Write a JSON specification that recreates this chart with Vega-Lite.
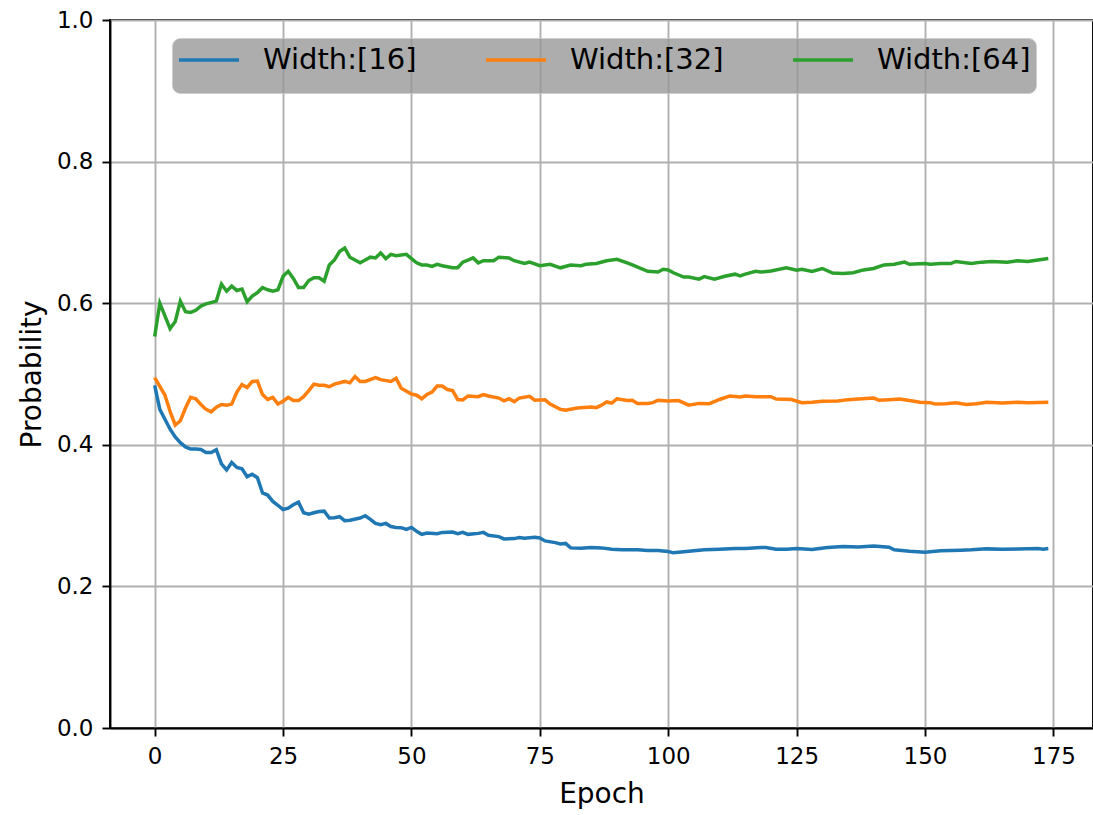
{
  "$schema": "https://vega.github.io/schema/vega-lite/v6.json",
  "autosize": "none",
  "width": 983,
  "height": 708,
  "padding": {"left": 110, "top": 20, "right": 0, "bottom": 87},
  "background": "white",
  "config": {
    "font": "DejaVu Sans",
    "view": {"stroke": "black", "strokeWidth": 1.9},
    "axis": {
      "labelFont": "DejaVu Sans",
      "titleFont": "DejaVu Sans",
      "labelFontSize": 23,
      "titleFontSize": 28,
      "titleFontWeight": "normal",
      "labelColor": "black",
      "titleColor": "black",
      "domainColor": "black",
      "domainWidth": 1.9,
      "tickColor": "black",
      "tickWidth": 1.9,
      "tickSize": 8,
      "labelPadding": 9,
      "grid": true,
      "gridColor": "#b0b0b0",
      "gridWidth": 1.9
    }
  },
  "datasets": {
    "rows": [
      {"epoch": 0, "series": "Width:[16]", "p": 0.484},
      {"epoch": 1, "series": "Width:[16]", "p": 0.450},
      {"epoch": 2, "series": "Width:[16]", "p": 0.436},
      {"epoch": 3, "series": "Width:[16]", "p": 0.422},
      {"epoch": 4, "series": "Width:[16]", "p": 0.411},
      {"epoch": 5, "series": "Width:[16]", "p": 0.403},
      {"epoch": 6, "series": "Width:[16]", "p": 0.397},
      {"epoch": 7, "series": "Width:[16]", "p": 0.394},
      {"epoch": 8, "series": "Width:[16]", "p": 0.394},
      {"epoch": 9, "series": "Width:[16]", "p": 0.3935},
      {"epoch": 10, "series": "Width:[16]", "p": 0.389},
      {"epoch": 11, "series": "Width:[16]", "p": 0.389},
      {"epoch": 12, "series": "Width:[16]", "p": 0.393},
      {"epoch": 13, "series": "Width:[16]", "p": 0.373},
      {"epoch": 14, "series": "Width:[16]", "p": 0.3645},
      {"epoch": 15, "series": "Width:[16]", "p": 0.375},
      {"epoch": 16, "series": "Width:[16]", "p": 0.368},
      {"epoch": 17, "series": "Width:[16]", "p": 0.366},
      {"epoch": 18, "series": "Width:[16]", "p": 0.355},
      {"epoch": 19, "series": "Width:[16]", "p": 0.3584},
      {"epoch": 20, "series": "Width:[16]", "p": 0.3535},
      {"epoch": 21, "series": "Width:[16]", "p": 0.332},
      {"epoch": 22, "series": "Width:[16]", "p": 0.329},
      {"epoch": 23, "series": "Width:[16]", "p": 0.320},
      {"epoch": 24, "series": "Width:[16]", "p": 0.3143},
      {"epoch": 25, "series": "Width:[16]", "p": 0.3086},
      {"epoch": 26, "series": "Width:[16]", "p": 0.3106},
      {"epoch": 27, "series": "Width:[16]", "p": 0.3153},
      {"epoch": 28, "series": "Width:[16]", "p": 0.319},
      {"epoch": 29, "series": "Width:[16]", "p": 0.304},
      {"epoch": 30, "series": "Width:[16]", "p": 0.302},
      {"epoch": 31, "series": "Width:[16]", "p": 0.304},
      {"epoch": 32, "series": "Width:[16]", "p": 0.3058},
      {"epoch": 33, "series": "Width:[16]", "p": 0.3063},
      {"epoch": 34, "series": "Width:[16]", "p": 0.2966},
      {"epoch": 35, "series": "Width:[16]", "p": 0.297},
      {"epoch": 36, "series": "Width:[16]", "p": 0.2984},
      {"epoch": 37, "series": "Width:[16]", "p": 0.2928},
      {"epoch": 38, "series": "Width:[16]", "p": 0.2935},
      {"epoch": 40, "series": "Width:[16]", "p": 0.2966},
      {"epoch": 41, "series": "Width:[16]", "p": 0.2998},
      {"epoch": 42, "series": "Width:[16]", "p": 0.2946},
      {"epoch": 43, "series": "Width:[16]", "p": 0.289},
      {"epoch": 44, "series": "Width:[16]", "p": 0.2871},
      {"epoch": 45, "series": "Width:[16]", "p": 0.289},
      {"epoch": 46, "series": "Width:[16]", "p": 0.2845},
      {"epoch": 47, "series": "Width:[16]", "p": 0.2833},
      {"epoch": 48, "series": "Width:[16]", "p": 0.283},
      {"epoch": 49, "series": "Width:[16]", "p": 0.2806},
      {"epoch": 50, "series": "Width:[16]", "p": 0.2833},
      {"epoch": 51, "series": "Width:[16]", "p": 0.2777},
      {"epoch": 52, "series": "Width:[16]", "p": 0.2735},
      {"epoch": 53, "series": "Width:[16]", "p": 0.2755},
      {"epoch": 55, "series": "Width:[16]", "p": 0.2745},
      {"epoch": 56, "series": "Width:[16]", "p": 0.2763},
      {"epoch": 58, "series": "Width:[16]", "p": 0.2767},
      {"epoch": 59, "series": "Width:[16]", "p": 0.2745},
      {"epoch": 60, "series": "Width:[16]", "p": 0.2763},
      {"epoch": 61, "series": "Width:[16]", "p": 0.2735},
      {"epoch": 63, "series": "Width:[16]", "p": 0.2749},
      {"epoch": 64, "series": "Width:[16]", "p": 0.2763},
      {"epoch": 65, "series": "Width:[16]", "p": 0.2721},
      {"epoch": 67, "series": "Width:[16]", "p": 0.2703},
      {"epoch": 68, "series": "Width:[16]", "p": 0.267},
      {"epoch": 70, "series": "Width:[16]", "p": 0.2675},
      {"epoch": 71, "series": "Width:[16]", "p": 0.2689},
      {"epoch": 72, "series": "Width:[16]", "p": 0.268},
      {"epoch": 74, "series": "Width:[16]", "p": 0.2693},
      {"epoch": 75, "series": "Width:[16]", "p": 0.2684},
      {"epoch": 76, "series": "Width:[16]", "p": 0.2642},
      {"epoch": 78, "series": "Width:[16]", "p": 0.2618},
      {"epoch": 79, "series": "Width:[16]", "p": 0.260},
      {"epoch": 80, "series": "Width:[16]", "p": 0.2607},
      {"epoch": 81, "series": "Width:[16]", "p": 0.2544},
      {"epoch": 83, "series": "Width:[16]", "p": 0.254},
      {"epoch": 85, "series": "Width:[16]", "p": 0.2548},
      {"epoch": 87, "series": "Width:[16]", "p": 0.2544},
      {"epoch": 89, "series": "Width:[16]", "p": 0.2525},
      {"epoch": 91, "series": "Width:[16]", "p": 0.2516},
      {"epoch": 94, "series": "Width:[16]", "p": 0.2516},
      {"epoch": 96, "series": "Width:[16]", "p": 0.2506},
      {"epoch": 98, "series": "Width:[16]", "p": 0.2506},
      {"epoch": 100, "series": "Width:[16]", "p": 0.2492},
      {"epoch": 101, "series": "Width:[16]", "p": 0.2474},
      {"epoch": 104, "series": "Width:[16]", "p": 0.2496},
      {"epoch": 107, "series": "Width:[16]", "p": 0.2516},
      {"epoch": 110, "series": "Width:[16]", "p": 0.2525},
      {"epoch": 113, "series": "Width:[16]", "p": 0.2534},
      {"epoch": 115, "series": "Width:[16]", "p": 0.2534},
      {"epoch": 118, "series": "Width:[16]", "p": 0.2548},
      {"epoch": 119, "series": "Width:[16]", "p": 0.2548},
      {"epoch": 121, "series": "Width:[16]", "p": 0.2525},
      {"epoch": 123, "series": "Width:[16]", "p": 0.2525},
      {"epoch": 125, "series": "Width:[16]", "p": 0.2534},
      {"epoch": 128, "series": "Width:[16]", "p": 0.252},
      {"epoch": 131, "series": "Width:[16]", "p": 0.2548},
      {"epoch": 134, "series": "Width:[16]", "p": 0.2562},
      {"epoch": 137, "series": "Width:[16]", "p": 0.2557},
      {"epoch": 140, "series": "Width:[16]", "p": 0.2572},
      {"epoch": 143, "series": "Width:[16]", "p": 0.2553},
      {"epoch": 144, "series": "Width:[16]", "p": 0.2516},
      {"epoch": 147, "series": "Width:[16]", "p": 0.2496},
      {"epoch": 150, "series": "Width:[16]", "p": 0.2482},
      {"epoch": 153, "series": "Width:[16]", "p": 0.2502},
      {"epoch": 157, "series": "Width:[16]", "p": 0.2511},
      {"epoch": 159, "series": "Width:[16]", "p": 0.2516},
      {"epoch": 162, "series": "Width:[16]", "p": 0.253},
      {"epoch": 165, "series": "Width:[16]", "p": 0.2525},
      {"epoch": 168, "series": "Width:[16]", "p": 0.253},
      {"epoch": 172, "series": "Width:[16]", "p": 0.2534},
      {"epoch": 173, "series": "Width:[16]", "p": 0.2525},
      {"epoch": 174, "series": "Width:[16]", "p": 0.2534},

      {"epoch": 0, "series": "Width:[32]", "p": 0.495},
      {"epoch": 1, "series": "Width:[32]", "p": 0.4825},
      {"epoch": 2, "series": "Width:[32]", "p": 0.470},
      {"epoch": 3, "series": "Width:[32]", "p": 0.447},
      {"epoch": 4, "series": "Width:[32]", "p": 0.428},
      {"epoch": 5, "series": "Width:[32]", "p": 0.434},
      {"epoch": 6, "series": "Width:[32]", "p": 0.452},
      {"epoch": 7, "series": "Width:[32]", "p": 0.467},
      {"epoch": 8, "series": "Width:[32]", "p": 0.465},
      {"epoch": 9, "series": "Width:[32]", "p": 0.457},
      {"epoch": 10, "series": "Width:[32]", "p": 0.450},
      {"epoch": 11, "series": "Width:[32]", "p": 0.4465},
      {"epoch": 12, "series": "Width:[32]", "p": 0.453},
      {"epoch": 13, "series": "Width:[32]", "p": 0.457},
      {"epoch": 14, "series": "Width:[32]", "p": 0.456},
      {"epoch": 15, "series": "Width:[32]", "p": 0.4575},
      {"epoch": 16, "series": "Width:[32]", "p": 0.4745},
      {"epoch": 17, "series": "Width:[32]", "p": 0.485},
      {"epoch": 18, "series": "Width:[32]", "p": 0.481},
      {"epoch": 19, "series": "Width:[32]", "p": 0.4895},
      {"epoch": 20, "series": "Width:[32]", "p": 0.490},
      {"epoch": 21, "series": "Width:[32]", "p": 0.471},
      {"epoch": 22, "series": "Width:[32]", "p": 0.464},
      {"epoch": 23, "series": "Width:[32]", "p": 0.467},
      {"epoch": 24, "series": "Width:[32]", "p": 0.4575},
      {"epoch": 25, "series": "Width:[32]", "p": 0.4615},
      {"epoch": 26, "series": "Width:[32]", "p": 0.467},
      {"epoch": 27, "series": "Width:[32]", "p": 0.4625},
      {"epoch": 28, "series": "Width:[32]", "p": 0.4625},
      {"epoch": 29, "series": "Width:[32]", "p": 0.468},
      {"epoch": 30, "series": "Width:[32]", "p": 0.4765},
      {"epoch": 31, "series": "Width:[32]", "p": 0.4857},
      {"epoch": 32, "series": "Width:[32]", "p": 0.484},
      {"epoch": 33, "series": "Width:[32]", "p": 0.484},
      {"epoch": 34, "series": "Width:[32]", "p": 0.482},
      {"epoch": 35, "series": "Width:[32]", "p": 0.4857},
      {"epoch": 37, "series": "Width:[32]", "p": 0.4895},
      {"epoch": 38, "series": "Width:[32]", "p": 0.4875},
      {"epoch": 39, "series": "Width:[32]", "p": 0.4965},
      {"epoch": 40, "series": "Width:[32]", "p": 0.4895},
      {"epoch": 41, "series": "Width:[32]", "p": 0.4895},
      {"epoch": 43, "series": "Width:[32]", "p": 0.495},
      {"epoch": 44, "series": "Width:[32]", "p": 0.492},
      {"epoch": 46, "series": "Width:[32]", "p": 0.4895},
      {"epoch": 47, "series": "Width:[32]", "p": 0.494},
      {"epoch": 48, "series": "Width:[32]", "p": 0.480},
      {"epoch": 50, "series": "Width:[32]", "p": 0.4717},
      {"epoch": 51, "series": "Width:[32]", "p": 0.470},
      {"epoch": 52, "series": "Width:[32]", "p": 0.465},
      {"epoch": 53, "series": "Width:[32]", "p": 0.471},
      {"epoch": 54, "series": "Width:[32]", "p": 0.4745},
      {"epoch": 55, "series": "Width:[32]", "p": 0.483},
      {"epoch": 56, "series": "Width:[32]", "p": 0.483},
      {"epoch": 57, "series": "Width:[32]", "p": 0.478},
      {"epoch": 58, "series": "Width:[32]", "p": 0.4765},
      {"epoch": 59, "series": "Width:[32]", "p": 0.464},
      {"epoch": 60, "series": "Width:[32]", "p": 0.4635},
      {"epoch": 61, "series": "Width:[32]", "p": 0.469},
      {"epoch": 63, "series": "Width:[32]", "p": 0.468},
      {"epoch": 64, "series": "Width:[32]", "p": 0.471},
      {"epoch": 65, "series": "Width:[32]", "p": 0.469},
      {"epoch": 67, "series": "Width:[32]", "p": 0.466},
      {"epoch": 68, "series": "Width:[32]", "p": 0.462},
      {"epoch": 69, "series": "Width:[32]", "p": 0.465},
      {"epoch": 70, "series": "Width:[32]", "p": 0.461},
      {"epoch": 71, "series": "Width:[32]", "p": 0.466},
      {"epoch": 73, "series": "Width:[32]", "p": 0.4685},
      {"epoch": 74, "series": "Width:[32]", "p": 0.463},
      {"epoch": 76, "series": "Width:[32]", "p": 0.4635},
      {"epoch": 77, "series": "Width:[32]", "p": 0.4575},
      {"epoch": 79, "series": "Width:[32]", "p": 0.450},
      {"epoch": 80, "series": "Width:[32]", "p": 0.449},
      {"epoch": 82, "series": "Width:[32]", "p": 0.4515},
      {"epoch": 83, "series": "Width:[32]", "p": 0.4525},
      {"epoch": 85, "series": "Width:[32]", "p": 0.4535},
      {"epoch": 86, "series": "Width:[32]", "p": 0.4525},
      {"epoch": 87, "series": "Width:[32]", "p": 0.456},
      {"epoch": 88, "series": "Width:[32]", "p": 0.4605},
      {"epoch": 89, "series": "Width:[32]", "p": 0.459},
      {"epoch": 90, "series": "Width:[32]", "p": 0.465},
      {"epoch": 92, "series": "Width:[32]", "p": 0.4625},
      {"epoch": 93, "series": "Width:[32]", "p": 0.463},
      {"epoch": 94, "series": "Width:[32]", "p": 0.4585},
      {"epoch": 96, "series": "Width:[32]", "p": 0.4585},
      {"epoch": 97, "series": "Width:[32]", "p": 0.4595},
      {"epoch": 98, "series": "Width:[32]", "p": 0.463},
      {"epoch": 100, "series": "Width:[32]", "p": 0.462},
      {"epoch": 102, "series": "Width:[32]", "p": 0.4625},
      {"epoch": 104, "series": "Width:[32]", "p": 0.456},
      {"epoch": 106, "series": "Width:[32]", "p": 0.4585},
      {"epoch": 108, "series": "Width:[32]", "p": 0.458},
      {"epoch": 110, "series": "Width:[32]", "p": 0.464},
      {"epoch": 112, "series": "Width:[32]", "p": 0.469},
      {"epoch": 114, "series": "Width:[32]", "p": 0.4675},
      {"epoch": 115, "series": "Width:[32]", "p": 0.469},
      {"epoch": 117, "series": "Width:[32]", "p": 0.468},
      {"epoch": 120, "series": "Width:[32]", "p": 0.468},
      {"epoch": 121, "series": "Width:[32]", "p": 0.4647},
      {"epoch": 124, "series": "Width:[32]", "p": 0.464},
      {"epoch": 126, "series": "Width:[32]", "p": 0.4595},
      {"epoch": 128, "series": "Width:[32]", "p": 0.460},
      {"epoch": 130, "series": "Width:[32]", "p": 0.4615},
      {"epoch": 133, "series": "Width:[32]", "p": 0.462},
      {"epoch": 135, "series": "Width:[32]", "p": 0.4638},
      {"epoch": 137, "series": "Width:[32]", "p": 0.4647},
      {"epoch": 140, "series": "Width:[32]", "p": 0.466},
      {"epoch": 141, "series": "Width:[32]", "p": 0.463},
      {"epoch": 143, "series": "Width:[32]", "p": 0.4638},
      {"epoch": 145, "series": "Width:[32]", "p": 0.4647},
      {"epoch": 147, "series": "Width:[32]", "p": 0.4625},
      {"epoch": 149, "series": "Width:[32]", "p": 0.460},
      {"epoch": 151, "series": "Width:[32]", "p": 0.4595},
      {"epoch": 152, "series": "Width:[32]", "p": 0.4575},
      {"epoch": 154, "series": "Width:[32]", "p": 0.458},
      {"epoch": 156, "series": "Width:[32]", "p": 0.4595},
      {"epoch": 158, "series": "Width:[32]", "p": 0.457},
      {"epoch": 160, "series": "Width:[32]", "p": 0.458},
      {"epoch": 162, "series": "Width:[32]", "p": 0.460},
      {"epoch": 165, "series": "Width:[32]", "p": 0.459},
      {"epoch": 168, "series": "Width:[32]", "p": 0.460},
      {"epoch": 170, "series": "Width:[32]", "p": 0.4595},
      {"epoch": 172, "series": "Width:[32]", "p": 0.4598},
      {"epoch": 174, "series": "Width:[32]", "p": 0.460},

      {"epoch": 0, "series": "Width:[64]", "p": 0.553},
      {"epoch": 1, "series": "Width:[64]", "p": 0.600},
      {"epoch": 3, "series": "Width:[64]", "p": 0.564},
      {"epoch": 4, "series": "Width:[64]", "p": 0.574},
      {"epoch": 5, "series": "Width:[64]", "p": 0.603},
      {"epoch": 6, "series": "Width:[64]", "p": 0.588},
      {"epoch": 7, "series": "Width:[64]", "p": 0.587},
      {"epoch": 8, "series": "Width:[64]", "p": 0.590},
      {"epoch": 9, "series": "Width:[64]", "p": 0.596},
      {"epoch": 10, "series": "Width:[64]", "p": 0.599},
      {"epoch": 12, "series": "Width:[64]", "p": 0.603},
      {"epoch": 13, "series": "Width:[64]", "p": 0.627},
      {"epoch": 14, "series": "Width:[64]", "p": 0.617},
      {"epoch": 15, "series": "Width:[64]", "p": 0.624},
      {"epoch": 16, "series": "Width:[64]", "p": 0.618},
      {"epoch": 17, "series": "Width:[64]", "p": 0.620},
      {"epoch": 18, "series": "Width:[64]", "p": 0.602},
      {"epoch": 19, "series": "Width:[64]", "p": 0.610},
      {"epoch": 20, "series": "Width:[64]", "p": 0.615},
      {"epoch": 21, "series": "Width:[64]", "p": 0.622},
      {"epoch": 22, "series": "Width:[64]", "p": 0.619},
      {"epoch": 23, "series": "Width:[64]", "p": 0.617},
      {"epoch": 24, "series": "Width:[64]", "p": 0.619},
      {"epoch": 25, "series": "Width:[64]", "p": 0.638},
      {"epoch": 26, "series": "Width:[64]", "p": 0.645},
      {"epoch": 27, "series": "Width:[64]", "p": 0.635},
      {"epoch": 28, "series": "Width:[64]", "p": 0.622},
      {"epoch": 29, "series": "Width:[64]", "p": 0.622},
      {"epoch": 30, "series": "Width:[64]", "p": 0.632},
      {"epoch": 31, "series": "Width:[64]", "p": 0.636},
      {"epoch": 32, "series": "Width:[64]", "p": 0.636},
      {"epoch": 33, "series": "Width:[64]", "p": 0.631},
      {"epoch": 34, "series": "Width:[64]", "p": 0.654},
      {"epoch": 35, "series": "Width:[64]", "p": 0.661},
      {"epoch": 36, "series": "Width:[64]", "p": 0.673},
      {"epoch": 37, "series": "Width:[64]", "p": 0.678},
      {"epoch": 38, "series": "Width:[64]", "p": 0.665},
      {"epoch": 39, "series": "Width:[64]", "p": 0.661},
      {"epoch": 40, "series": "Width:[64]", "p": 0.657},
      {"epoch": 41, "series": "Width:[64]", "p": 0.661},
      {"epoch": 42, "series": "Width:[64]", "p": 0.665},
      {"epoch": 43, "series": "Width:[64]", "p": 0.664},
      {"epoch": 44, "series": "Width:[64]", "p": 0.671},
      {"epoch": 45, "series": "Width:[64]", "p": 0.663},
      {"epoch": 46, "series": "Width:[64]", "p": 0.669},
      {"epoch": 47, "series": "Width:[64]", "p": 0.667},
      {"epoch": 49, "series": "Width:[64]", "p": 0.669},
      {"epoch": 50, "series": "Width:[64]", "p": 0.663},
      {"epoch": 51, "series": "Width:[64]", "p": 0.657},
      {"epoch": 52, "series": "Width:[64]", "p": 0.654},
      {"epoch": 53, "series": "Width:[64]", "p": 0.654},
      {"epoch": 54, "series": "Width:[64]", "p": 0.652},
      {"epoch": 55, "series": "Width:[64]", "p": 0.655},
      {"epoch": 56, "series": "Width:[64]", "p": 0.653},
      {"epoch": 58, "series": "Width:[64]", "p": 0.650},
      {"epoch": 59, "series": "Width:[64]", "p": 0.650},
      {"epoch": 60, "series": "Width:[64]", "p": 0.658},
      {"epoch": 61, "series": "Width:[64]", "p": 0.661},
      {"epoch": 62, "series": "Width:[64]", "p": 0.664},
      {"epoch": 63, "series": "Width:[64]", "p": 0.657},
      {"epoch": 64, "series": "Width:[64]", "p": 0.660},
      {"epoch": 66, "series": "Width:[64]", "p": 0.660},
      {"epoch": 67, "series": "Width:[64]", "p": 0.665},
      {"epoch": 69, "series": "Width:[64]", "p": 0.664},
      {"epoch": 70, "series": "Width:[64]", "p": 0.660},
      {"epoch": 72, "series": "Width:[64]", "p": 0.656},
      {"epoch": 73, "series": "Width:[64]", "p": 0.658},
      {"epoch": 75, "series": "Width:[64]", "p": 0.653},
      {"epoch": 77, "series": "Width:[64]", "p": 0.655},
      {"epoch": 79, "series": "Width:[64]", "p": 0.650},
      {"epoch": 81, "series": "Width:[64]", "p": 0.654},
      {"epoch": 83, "series": "Width:[64]", "p": 0.653},
      {"epoch": 84, "series": "Width:[64]", "p": 0.655},
      {"epoch": 86, "series": "Width:[64]", "p": 0.656},
      {"epoch": 88, "series": "Width:[64]", "p": 0.660},
      {"epoch": 90, "series": "Width:[64]", "p": 0.662},
      {"epoch": 92, "series": "Width:[64]", "p": 0.657},
      {"epoch": 93, "series": "Width:[64]", "p": 0.654},
      {"epoch": 96, "series": "Width:[64]", "p": 0.645},
      {"epoch": 98, "series": "Width:[64]", "p": 0.644},
      {"epoch": 99, "series": "Width:[64]", "p": 0.648},
      {"epoch": 100, "series": "Width:[64]", "p": 0.647},
      {"epoch": 101, "series": "Width:[64]", "p": 0.643},
      {"epoch": 103, "series": "Width:[64]", "p": 0.637},
      {"epoch": 104, "series": "Width:[64]", "p": 0.637},
      {"epoch": 106, "series": "Width:[64]", "p": 0.634},
      {"epoch": 107, "series": "Width:[64]", "p": 0.6375},
      {"epoch": 109, "series": "Width:[64]", "p": 0.634},
      {"epoch": 111, "series": "Width:[64]", "p": 0.638},
      {"epoch": 113, "series": "Width:[64]", "p": 0.641},
      {"epoch": 114, "series": "Width:[64]", "p": 0.6385},
      {"epoch": 115, "series": "Width:[64]", "p": 0.641},
      {"epoch": 117, "series": "Width:[64]", "p": 0.645},
      {"epoch": 118, "series": "Width:[64]", "p": 0.644},
      {"epoch": 120, "series": "Width:[64]", "p": 0.6455},
      {"epoch": 123, "series": "Width:[64]", "p": 0.650},
      {"epoch": 125, "series": "Width:[64]", "p": 0.6465},
      {"epoch": 126, "series": "Width:[64]", "p": 0.648},
      {"epoch": 128, "series": "Width:[64]", "p": 0.645},
      {"epoch": 130, "series": "Width:[64]", "p": 0.649},
      {"epoch": 132, "series": "Width:[64]", "p": 0.6425},
      {"epoch": 134, "series": "Width:[64]", "p": 0.642},
      {"epoch": 136, "series": "Width:[64]", "p": 0.643},
      {"epoch": 138, "series": "Width:[64]", "p": 0.647},
      {"epoch": 140, "series": "Width:[64]", "p": 0.649},
      {"epoch": 142, "series": "Width:[64]", "p": 0.654},
      {"epoch": 144, "series": "Width:[64]", "p": 0.655},
      {"epoch": 146, "series": "Width:[64]", "p": 0.658},
      {"epoch": 147, "series": "Width:[64]", "p": 0.655},
      {"epoch": 150, "series": "Width:[64]", "p": 0.656},
      {"epoch": 151, "series": "Width:[64]", "p": 0.655},
      {"epoch": 153, "series": "Width:[64]", "p": 0.656},
      {"epoch": 155, "series": "Width:[64]", "p": 0.656},
      {"epoch": 156, "series": "Width:[64]", "p": 0.659},
      {"epoch": 159, "series": "Width:[64]", "p": 0.656},
      {"epoch": 161, "series": "Width:[64]", "p": 0.658},
      {"epoch": 163, "series": "Width:[64]", "p": 0.659},
      {"epoch": 166, "series": "Width:[64]", "p": 0.658},
      {"epoch": 168, "series": "Width:[64]", "p": 0.660},
      {"epoch": 170, "series": "Width:[64]", "p": 0.659},
      {"epoch": 172, "series": "Width:[64]", "p": 0.661},
      {"epoch": 174, "series": "Width:[64]", "p": 0.663}
    ]
  },
  "data": {"name": "rows"},
  "mark": {"type": "line", "strokeWidth": 3.5, "clip": true},
  "encoding": {
    "x": {
      "field": "epoch",
      "type": "quantitative",
      "scale": {"domain": [-8.7, 182.7], "nice": false, "zero": false},
      "axis": {
        "title": "Epoch",
        "values": [0, 25, 50, 75, 100, 125, 150, 175],
        "format": "d",
        "titlePadding": 12
      }
    },
    "y": {
      "field": "p",
      "type": "quantitative",
      "scale": {"domain": [0, 1], "nice": false},
      "axis": {
        "title": "Probability",
        "values": [0, 0.2, 0.4, 0.6, 0.8, 1.0],
        "format": ".1f",
        "titlePadding": 10
      }
    },
    "color": {
      "field": "series",
      "type": "nominal",
      "scale": {
        "domain": ["Width:[16]", "Width:[32]", "Width:[64]"],
        "range": ["#1f77b4", "#ff7f0e", "#2ca02c"]
      },
      "legend": {
        "title": " ",
        "titleOrient": "bottom",
        "titleFontSize": 13,
        "titlePadding": 0,
        "orient": "none",
        "legendX": 62,
        "legendY": 18,
        "direction": "horizontal",
        "columns": 3,
        "columnPadding": 62,
        "padding": 5,
        "fillColor": "rgba(150,150,150,0.78)",
        "strokeColor": "rgba(204,204,204,0.8)",
        "cornerRadius": 8,
        "symbolType": "M-1,0L3,0",
        "symbolSize": 900,
        "symbolStrokeWidth": 3.5,
        "labelFont": "DejaVu Sans",
        "labelFontSize": 29,
        "labelColor": "black",
        "labelOffset": 52,
        "labelLimit": 400
      }
    }
  }
}
